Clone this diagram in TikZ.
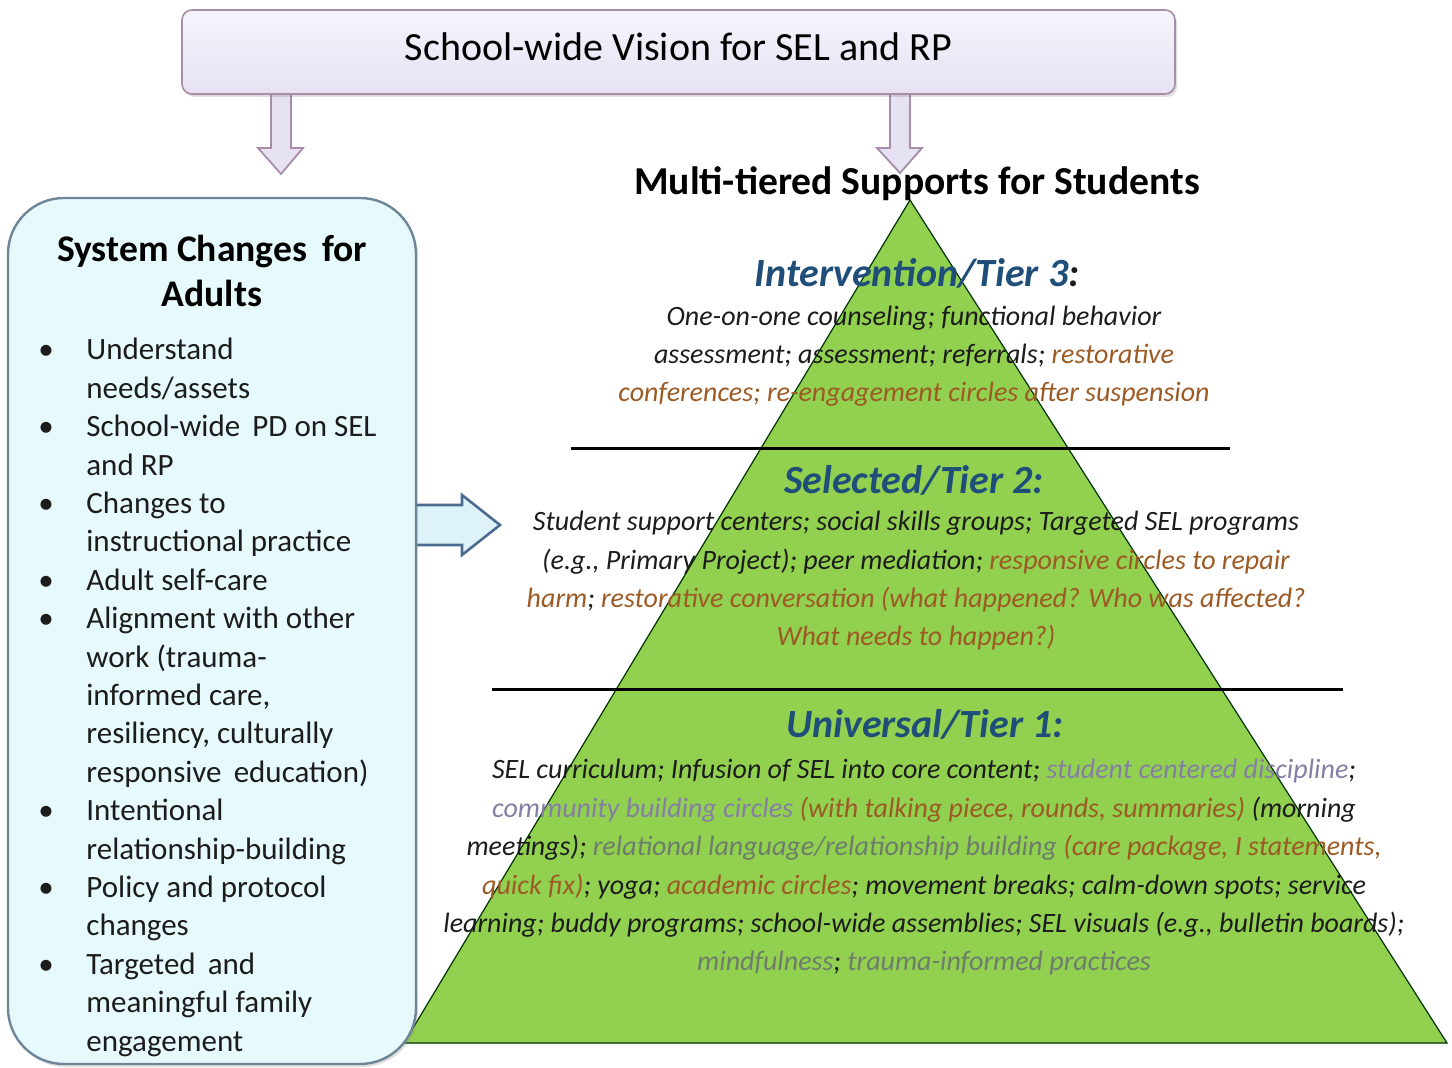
\documentclass[tikz,border=0pt]{standalone}
\usepackage{fontspec}
\setmainfont{Carlito}
\usetikzlibrary{shadows}

\definecolor{visionfill}{HTML}{E6E2F4}
\definecolor{visiontop}{HTML}{F6F4FC}
\definecolor{visionedge}{HTML}{A98DA8}
\definecolor{adultfill}{HTML}{E6F9FC}
\definecolor{adultedge}{HTML}{6D8698}
\definecolor{pushfill}{HTML}{DDF3F9}
\definecolor{pushedge}{HTML}{4B6B90}
\definecolor{pyramidgreen}{HTML}{92D050}
\definecolor{tierblue}{HTML}{1F4E79}
\definecolor{rpbrown}{HTML}{9C5A24}
\definecolor{lavgray}{HTML}{857FA5}
\definecolor{softgray}{HTML}{6E7C6C}
\definecolor{ink}{HTML}{1C1C1C}

% coloured runs inside the tier texts
\newcommand{\rpword}[1]{\textcolor{rpbrown}{#1}}
\newcommand{\lavword}[1]{\textcolor{lavgray}{#1}}
\newcommand{\grayword}[1]{\textcolor{softgray}{#1}}

\begin{document}
\begin{tikzpicture}[x=0.5pt,y=-0.5pt,
    visionbox/.style={draw=visionedge, line width=0.8pt, rounded corners=5pt,
      top color=visiontop, bottom color=visionfill,
      minimum width=496.5pt, minimum height=42pt, text height=14pt, text depth=5pt,
      drop shadow={shadow xshift=1pt, shadow yshift=-1.5pt, opacity=0.25},
      font=\fontsize{20}{24}\selectfont},
    adultbox/.style={draw=adultedge, line width=1.2pt, rounded corners=28pt,
      fill=adultfill, minimum width=204pt, minimum height=433pt,
      drop shadow={shadow xshift=1pt, shadow yshift=-1.5pt, opacity=0.25}},
    droparrow/.style={draw=visionedge, line width=0.9pt, fill=visionfill},
    pusharrow/.style={draw=pushedge, line width=1.3pt, fill=pushfill},
    pyramid/.style={draw=black!80!green, line width=0.6pt, fill=pyramidgreen},
    tierline/.style={line width=1.5pt},
    heading/.style={inner sep=0pt, anchor=base, align=center, font=\bfseries},
    tierhead/.style={inner sep=0pt, anchor=base, text=tierblue,
      font=\fontsize{20}{24}\selectfont\bfseries\itshape},
    tierbody/.style={inner sep=0pt, anchor=base, align=center, text=ink,
      font=\fontsize{14}{19.2}\selectfont\itshape},
    listtext/.style={inner sep=0pt, anchor=base west, text=ink,
      font=\fontsize{15.5}{19.2}\selectfont}]
\useasboundingbox (0,0) rectangle (1452,1068);

% arrows out of the vision box
\coordinate (dropL) at (281,94);
\coordinate (dropR) at (900,94);
\draw[droparrow] (dropL) ++(-10,-4) -- ++(0,58) -- ++(-13,0) -- ++(23,26)
  -- ++(22,-26) -- ++(-12,0) -- ++(0,-58) -- cycle;
\draw[droparrow] (dropR) ++(-10,-4) -- ++(0,58) -- ++(-13,0) -- ++(23,25)
  -- ++(22,-25) -- ++(-12,0) -- ++(0,-58) -- cycle;

\node[visionbox] (vision) at (678.5,52) {School-wide Vision for SEL and RP};

% the pyramid and its tiers (multi-line nodes sit on their last baseline)
\coordinate (apex) at (910,200);
\coordinate (baseL) at (404,1043);
\coordinate (baseR) at (1447,1043);
\filldraw[pyramid] (apex) -- (baseL) -- (baseR) -- cycle;
\draw[tierline] (571,449) -- (1230,449);
\draw[tierline] (492,690) -- (1343,690);

\node[heading, font=\fontsize{19.8}{24}\selectfont\bfseries] (tiers) at (917,195)
  {Multi-tiered Supports for Students};

\node[tierhead] (tier3head) at (917,287) {Intervention/Tier 3\textcolor{ink}{:}};
\node[tierbody] (tier3body) at (914,402) {%
  One-on-one counseling; functional behavior\\
  assessment; assessment; referrals; \rpword{restorative}\\
  \rpword{conferences; re-engagement circles after suspension}};

\node[tierhead] (tier2head) at (914,494) {Selected/Tier 2:};
\node[tierbody] (tier2body) at (916,646) {%
  Student support centers; social skills groups; Targeted SEL programs\\
  (e.g., Primary Project); peer mediation; \rpword{responsive circles to repair}\\
  \rpword{harm}; \rpword{restorative conversation (what happened? Who was affected?}\\
  \rpword{What needs to happen?)}};

\node[tierhead] (tier1head) at (925,738) {Universal/Tier 1:};
\node[tierbody] (tier1body) at (924,971) {%
  SEL curriculum; Infusion of SEL into core content; \lavword{student centered discipline};\\
  \lavword{community building circles} \rpword{(with talking piece, rounds, summaries)} (morning\\
  meetings); \grayword{relational language/relationship building} \rpword{(care package, I statements,}\\
  \rpword{quick fix)}; yoga; \rpword{academic circles}; movement breaks; calm-down spots; service\\
  learning; buddy programs; school-wide assemblies; SEL visuals (e.g., bulletin boards);\\
  \grayword{mindfulness}; \grayword{trauma-informed practices}};

% system changes for adults
\draw[pusharrow] (416,525) ++(0,-20) -- ++(46,0) -- ++(0,-10) -- ++(38,30)
  -- ++(-38,30) -- ++(0,-10) -- ++(-46,0);
\node[adultbox] (adults) at (212,631) {};

\node[heading, font=\fontsize{18.8}{22.5}\selectfont\bfseries] (adulthead) at (212,307)
  {System Changes\, for\\Adults};

\node[listtext] (adultlist) at (38,360) {%
  \begin{tabular}[t]{@{}p{24pt}@{}l@{}}
  \textbullet & Understand\\
   & needs/assets\\
  \textbullet & School-wide\, PD on SEL\\
   & and RP\\
  \textbullet & Changes to\\
   & instructional practice\\
  \textbullet & Adult self-care\\
  \textbullet & Alignment with other\\
   & work (trauma-\\
   & informed care,\\
   & resiliency, culturally\\
   & responsive\, education)\\
  \textbullet & Intentional\\
   & relationship-building\\
  \textbullet & Policy and protocol\\
   & changes\\
  \textbullet & Targeted\, and\\
   & meaningful family\\
   & engagement
  \end{tabular}};
\end{tikzpicture}
\end{document}
